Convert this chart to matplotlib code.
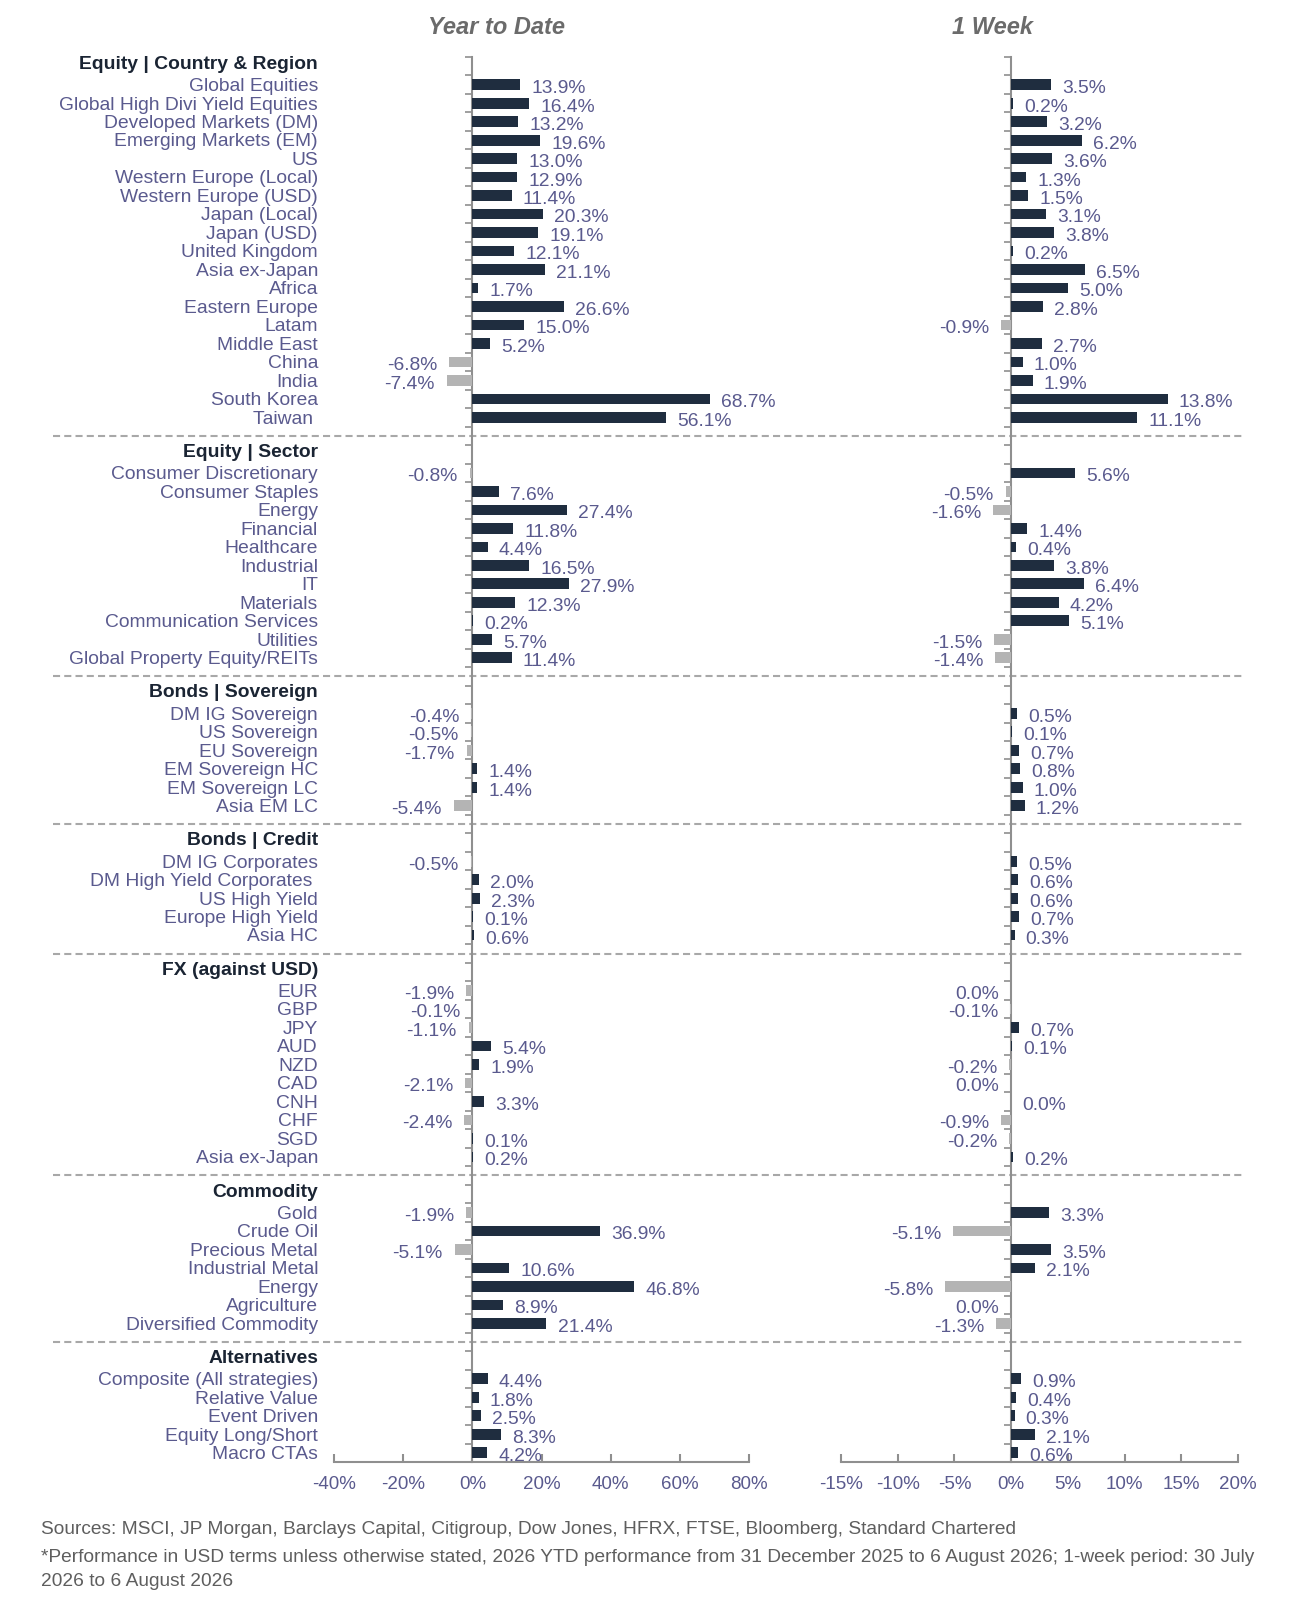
import numpy as np
import matplotlib
matplotlib.use("Agg")
import matplotlib.pyplot as plt
from matplotlib.ticker import FuncFormatter
from matplotlib.transforms import blended_transform_factory

plt.rcParams['font.family'] = ['Liberation Sans', 'DejaVu Sans']

# ---- data (values in %) ----
# -0.0 means a zero that is labelled on the negative side
sec_titles = ["Equity | Country & Region", "Equity | Sector", "Bonds | Sovereign",
              "Bonds | Credit", "FX (against USD)", "Commodity", "Alternatives"]

eq_names = ["Global Equities", "Global High Divi Yield Equities", "Developed Markets (DM)",
            "Emerging Markets (EM)", "US", "Western Europe (Local)", "Western Europe (USD)",
            "Japan (Local)", "Japan (USD)", "United Kingdom", "Asia ex-Japan", "Africa",
            "Eastern Europe", "Latam", "Middle East", "China", "India", "South Korea", "Taiwan "]
eq_ytd = [13.9, 16.4, 13.2, 19.6, 13.0, 12.9, 11.4, 20.3, 19.1, 12.1, 21.1, 1.7,
          26.6, 15.0, 5.2, -6.8, -7.4, 68.7, 56.1]
eq_week = [3.5, 0.2, 3.2, 6.2, 3.6, 1.3, 1.5, 3.1, 3.8, 0.2, 6.5, 5.0,
           2.8, -0.9, 2.7, 1.0, 1.9, 13.8, 11.1]

sector_names = ["Consumer Discretionary", "Consumer Staples", "Energy", "Financial",
                "Healthcare", "Industrial", "IT", "Materials", "Communication Services",
                "Utilities", "Global Property Equity/REITs"]
sector_ytd = [-0.8, 7.6, 27.4, 11.8, 4.4, 16.5, 27.9, 12.3, 0.2, 5.7, 11.4]
sector_week = [5.6, -0.5, -1.6, 1.4, 0.4, 3.8, 6.4, 4.2, 5.1, -1.5, -1.4]

sov_names = ["DM IG Sovereign", "US Sovereign", "EU Sovereign", "EM Sovereign HC",
             "EM Sovereign LC", "Asia EM LC"]
sov_ytd = [-0.4, -0.5, -1.7, 1.4, 1.4, -5.4]
sov_week = [0.5, 0.1, 0.7, 0.8, 1.0, 1.2]

credit_names = ["DM IG Corporates", "DM High Yield Corporates ", "US High Yield",
                "Europe High Yield", "Asia HC"]
credit_ytd = [-0.5, 2.0, 2.3, 0.1, 0.6]
credit_week = [0.5, 0.6, 0.6, 0.7, 0.3]

fx_names = ["EUR", "GBP", "JPY", "AUD", "NZD", "CAD", "CNH", "CHF", "SGD", "Asia ex-Japan"]
fx_ytd = [-1.9, -0.1, -1.1, 5.4, 1.9, -2.1, 3.3, -2.4, 0.1, 0.2]
fx_week = [-0.0, -0.1, 0.7, 0.1, -0.2, -0.0, 0.0, -0.9, -0.2, 0.2]

comm_names = ["Gold", "Crude Oil", "Precious Metal", "Industrial Metal", "Energy",
              "Agriculture", "Diversified Commodity"]
comm_ytd = [-1.9, 36.9, -5.1, 10.6, 46.8, 8.9, 21.4]
comm_week = [3.3, -5.1, 3.5, 2.1, -5.8, -0.0, -1.3]

alt_names = ["Composite (All strategies)", "Relative Value", "Event Driven",
             "Equity Long/Short", "Macro CTAs"]
alt_ytd = [4.4, 1.8, 2.5, 8.3, 4.2]
alt_week = [0.9, 0.4, 0.3, 2.1, 0.6]

groups = [
    (sec_titles[0], eq_names, eq_ytd, eq_week),
    (sec_titles[1], sector_names, sector_ytd, sector_week),
    (sec_titles[2], sov_names, sov_ytd, sov_week),
    (sec_titles[3], credit_names, credit_ytd, credit_week),
    (sec_titles[4], fx_names, fx_ytd, fx_week),
    (sec_titles[5], comm_names, comm_ytd, comm_week),
    (sec_titles[6], alt_names, alt_ytd, alt_week),
]

NAVY = '#1f2d3f'
GREY = '#b4b4b4'
PURPLE = '#5a5a8e'
HEADER = '#1a2433'
AXIS = '#8f8f8f'
FS = 13.9

# ---- row layout: dashed separator, header, items ----
rows, names, ytd, week, headers, dashes = [], [], [], [], [], []
r = 0
for k, (title, nm, y1, w1) in enumerate(groups):
    if k > 0:
        dashes.append(r)
        r += 1
    headers.append((r, title))
    r += 1
    for n, a, b in zip(nm, y1, w1):
        rows.append(r)
        names.append(n)
        ytd.append(a)
        week.append(b)
        r += 1
n_rows = r

fig = plt.figure(figsize=(13.1, 16.04), dpi=100)
ax1 = fig.add_axes([0.2550, 0.0885, 0.3168, 0.876])
ax2 = fig.add_axes([0.6420, 0.0885, 0.3031, 0.876])


def draw_panel(ax, vals, xlim, step):
    vals = np.array(vals)
    neg = np.signbit(vals)
    colors = [GREY if s else NAVY for s in neg]
    ax.barh(rows, vals, height=0.58, color=colors, zorder=3)
    for y, v, s in zip(rows, vals, neg):
        txt = f"{v:.1f}%".replace("-0.0%", "0.0%")
        ax.annotate(txt, xy=(v, y), xytext=(-8.5 if s else 8, -2.8),
                    textcoords='offset points', ha='right' if s else 'left',
                    va='center', color=PURPLE, fontsize=FS, zorder=4)
    ax.set_xlim(*xlim)
    ax.set_xticks(np.arange(xlim[0], xlim[1] + 1, step))
    ax.xaxis.set_major_formatter(FuncFormatter(lambda x, p: f"{x:.0f}%"))
    ax.set_ylim(n_rows - 0.5, -0.5)
    ax.set_yticks(np.arange(-0.5, n_rows, 1))
    ax.tick_params(axis='y', direction='out', length=5, width=1.2, color=AXIS, labelleft=False)
    ax.tick_params(axis='x', direction='in', length=6, width=1.5, color=AXIS,
                   labelcolor=PURPLE, labelsize=13.5, pad=10)
    ax.spines['left'].set_position(('data', 0))
    for side in ['left', 'bottom']:
        ax.spines[side].set_color(AXIS)
        ax.spines[side].set_linewidth(1.5)
    ax.spines['top'].set_visible(False)
    ax.spines['right'].set_visible(False)
    ax.patch.set_visible(False)


draw_panel(ax1, ytd, (-40, 80), 20)
draw_panel(ax2, week, (-15, 20), 5)

# category labels and section headers
blend = blended_transform_factory(fig.transFigure, ax1.transData)
lab_x = 318 / 1310
for y, n in zip(rows, names):
    ax1.text(lab_x, y + 0.1, n, transform=blend, ha='right', va='center',
             fontsize=FS, color=PURPLE, clip_on=False)
for y, t in headers:
    ax1.text(lab_x, y - 0.1, t, transform=blend, ha='right', va='center',
             fontsize=FS, fontweight='bold', color=HEADER, clip_on=False)
for y in dashes:
    ax1.plot([0.0405, 0.949], [y, y], transform=blend, clip_on=False,
             color='#a8a8a8', lw=1.5, ls=(0, (3.4, 2.0)), zorder=1)

# column titles
fig.text(496 / 1310, 0.983, "Year to Date", ha='center', va='center', fontsize=17,
         fontweight='bold', fontstyle='italic', color='#6b6b6b')
fig.text(993 / 1310, 0.983, "1 Week", ha='center', va='center', fontsize=17,
         fontweight='bold', fontstyle='italic', color='#6b6b6b')

# footnotes
foot = '#5e5e5e'
fig.text(41 / 1310, 1 - 1529 / 1604,
         "Sources: MSCI, JP Morgan, Barclays Capital, Citigroup, Dow Jones, HFRX, FTSE, "
         "Bloomberg, Standard Chartered", va='center', fontsize=13.8, color=foot)
fig.text(41 / 1310, 1 - 1557 / 1604,
         "*Performance in USD terms unless otherwise stated, 2026 YTD performance from "
         "31 December 2025 to 6 August 2026; 1-week period: 30 July", va='center',
         fontsize=13.8, color=foot)
fig.text(41 / 1310, 1 - 1581 / 1604, "2026 to 6 August 2026", va='center',
         fontsize=13.8, color=foot)

fig.savefig("out.png", dpi=100, facecolor='white')
